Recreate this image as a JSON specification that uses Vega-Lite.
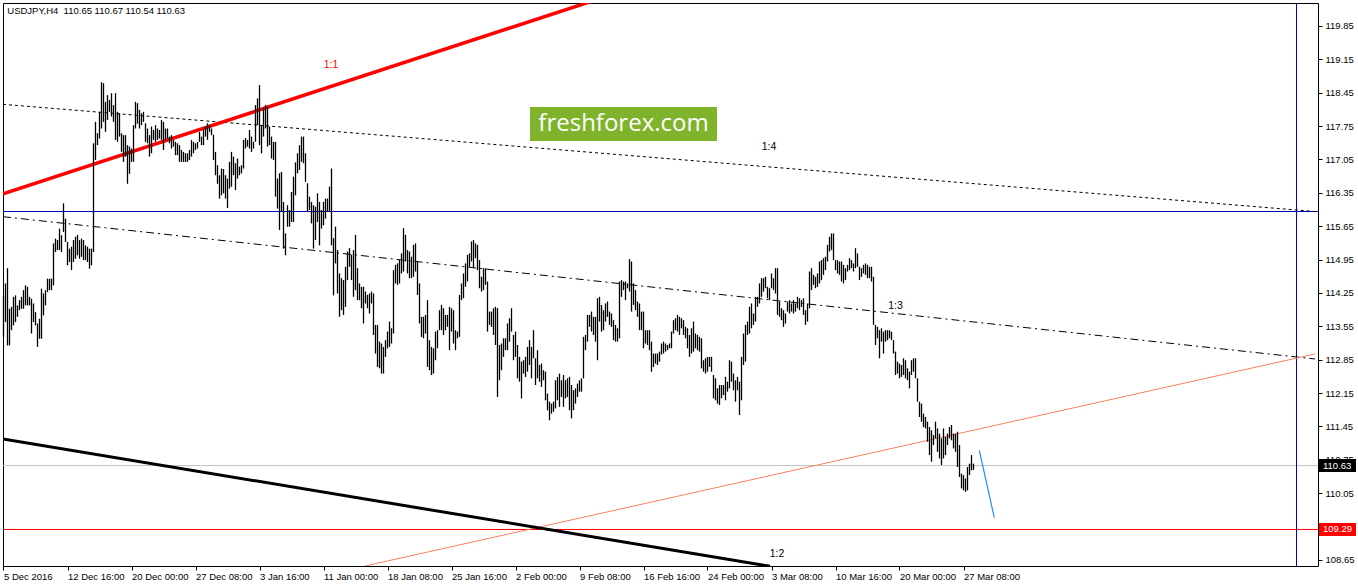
{
"$schema":"https://vega.github.io/schema/vega-lite/v6.json",
"width":1315,"height":563,
"autosize":{"type":"none"},
"padding":{"left":3,"top":3,"right":40,"bottom":18},
"background":"#ffffff",
"config":{"view":{"stroke":"#000000","strokeWidth":1},"axis":{"grid":false,"domain":false,"labelFont":"Liberation Sans","labelFontSize":9.5,"labelColor":"#000000","tickColor":"#000000","tickSize":4,"labelOverlap":false,"labelSeparation":0,"labelFlush":false,"labelBound":false,"tickCount":100}},
"datasets":{
"one":[{}],
"bars":[
{"i":0,"h":114.19,"l":113.33},{"i":1,"h":114.45,"l":113.64},{"i":2,"h":114.77,"l":113.15},{"i":3,"h":113.92,"l":113.15},{"i":4,"h":113.96,"l":113.47},{"i":5,"h":114.17,"l":113.57},{"i":6,"h":114.20,"l":113.64},{"i":7,"h":113.99,"l":113.75},{"i":8,"h":114.10,"l":113.89},{"i":9,"h":114.17,"l":113.92},
{"i":10,"h":114.31,"l":113.92},{"i":11,"h":114.41,"l":113.99},{"i":12,"h":114.38,"l":113.99},{"i":13,"h":114.17,"l":113.99},{"i":14,"h":114.13,"l":113.40},{"i":15,"h":114.03,"l":113.64},{"i":16,"h":113.85,"l":113.57},{"i":17,"h":113.61,"l":113.12},{"i":18,"h":113.71,"l":113.29},{"i":19,"h":114.34,"l":113.29},
{"i":20,"h":114.24,"l":113.78},{"i":21,"h":114.31,"l":113.99},{"i":22,"h":114.55,"l":114.27},{"i":23,"h":114.55,"l":114.31},{"i":24,"h":114.55,"l":114.31},{"i":25,"h":115.29,"l":114.41},{"i":26,"h":115.39,"l":115.11},{"i":27,"h":115.36,"l":115.15},{"i":28,"h":115.60,"l":115.15},{"i":29,"h":115.46,"l":115.11},
{"i":30,"h":116.13,"l":115.53},{"i":31,"h":115.81,"l":115.32},{"i":32,"h":115.32,"l":114.83},{"i":33,"h":115.18,"l":114.90},{"i":34,"h":115.22,"l":114.73},{"i":35,"h":115.36,"l":114.90},{"i":36,"h":115.43,"l":114.97},{"i":37,"h":115.47,"l":115.04},{"i":38,"h":115.36,"l":114.97},{"i":39,"h":115.39,"l":115.01},
{"i":40,"h":115.36,"l":114.94},{"i":41,"h":115.25,"l":114.94},{"i":42,"h":115.22,"l":114.90},{"i":43,"h":115.18,"l":114.76},{"i":44,"h":115.18,"l":114.83},{"i":45,"h":117.39,"l":115.11},{"i":46,"h":117.84,"l":117.04},{"i":47,"h":117.60,"l":117.35},{"i":48,"h":118.05,"l":117.49},{"i":49,"h":118.67,"l":117.70},
{"i":50,"h":118.65,"l":117.84},{"i":51,"h":118.26,"l":117.63},{"i":52,"h":118.40,"l":117.88},{"i":53,"h":118.30,"l":118.05},{"i":54,"h":118.44,"l":117.95},{"i":55,"h":118.19,"l":117.84},{"i":56,"h":118.44,"l":117.46},{"i":57,"h":118.05,"l":117.42},{"i":58,"h":118.02,"l":117.53},{"i":59,"h":117.60,"l":117.21},
{"i":60,"h":117.56,"l":117.00},{"i":61,"h":117.56,"l":117.11},{"i":62,"h":117.35,"l":116.54},{"i":63,"h":117.32,"l":116.75},{"i":64,"h":117.28,"l":117.00},{"i":65,"h":117.77,"l":117.00},{"i":66,"h":118.26,"l":117.70},{"i":67,"h":118.23,"l":117.80},{"i":68,"h":118.09,"l":117.70},{"i":69,"h":118.02,"l":117.77},
{"i":70,"h":118.05,"l":117.84},{"i":71,"h":117.81,"l":117.42},{"i":72,"h":117.70,"l":117.39},{"i":73,"h":117.56,"l":117.11},{"i":74,"h":117.74,"l":117.18},{"i":75,"h":117.67,"l":117.46},{"i":76,"h":117.77,"l":117.42},{"i":77,"h":117.70,"l":117.46},{"i":78,"h":117.67,"l":117.49},{"i":79,"h":117.88,"l":117.46},
{"i":80,"h":117.84,"l":117.25},{"i":81,"h":117.70,"l":117.46},{"i":82,"h":117.70,"l":117.49},{"i":83,"h":117.53,"l":117.39},{"i":84,"h":117.56,"l":117.28},{"i":85,"h":117.46,"l":117.32},{"i":86,"h":117.42,"l":117.14},{"i":87,"h":117.39,"l":117.14},{"i":88,"h":117.35,"l":117.00},{"i":89,"h":117.25,"l":117.00},
{"i":90,"h":117.21,"l":117.00},{"i":91,"h":117.18,"l":117.00},{"i":92,"h":117.18,"l":117.00},{"i":93,"h":117.25,"l":117.04},{"i":94,"h":117.46,"l":117.11},{"i":95,"h":117.42,"l":117.18},{"i":96,"h":117.39,"l":117.25},{"i":97,"h":117.42,"l":117.28},{"i":98,"h":117.63,"l":117.42},{"i":99,"h":117.53,"l":117.35},
{"i":100,"h":117.67,"l":117.35},{"i":101,"h":117.74,"l":117.53},{"i":102,"h":117.81,"l":117.46},{"i":103,"h":117.77,"l":117.63},{"i":104,"h":117.70,"l":117.56},{"i":105,"h":117.57,"l":117.04},{"i":106,"h":117.21,"l":116.72},{"i":107,"h":116.93,"l":116.54},{"i":108,"h":116.72,"l":116.23},{"i":109,"h":116.86,"l":116.30},
{"i":110,"h":116.85,"l":116.34},{"i":111,"h":116.72,"l":116.23},{"i":112,"h":116.65,"l":116.03},{"i":113,"h":117.00,"l":116.44},{"i":114,"h":117.21,"l":116.48},{"i":115,"h":117.11,"l":116.72},{"i":116,"h":116.97,"l":116.41},{"i":117,"h":117.07,"l":116.65},{"i":118,"h":116.90,"l":116.72},{"i":119,"h":116.93,"l":116.76},
{"i":120,"h":117.46,"l":116.86},{"i":121,"h":117.50,"l":117.28},{"i":122,"h":117.46,"l":117.32},{"i":123,"h":117.67,"l":117.28},{"i":124,"h":117.53,"l":117.21},{"i":125,"h":117.42,"l":117.28},{"i":126,"h":118.19,"l":117.42},{"i":127,"h":118.33,"l":117.77},{"i":128,"h":118.61,"l":117.35},{"i":129,"h":117.77,"l":117.18},
{"i":130,"h":118.12,"l":117.53},{"i":131,"h":118.19,"l":117.70},{"i":132,"h":118.16,"l":117.32},{"i":133,"h":117.74,"l":117.35},{"i":134,"h":117.53,"l":117.07},{"i":135,"h":117.42,"l":117.04},{"i":136,"h":117.42,"l":116.27},{"i":137,"h":116.65,"l":116.02},{"i":138,"h":116.76,"l":115.57},{"i":139,"h":116.79,"l":115.95},
{"i":140,"h":116.16,"l":115.18},{"i":141,"h":115.50,"l":115.04},{"i":142,"h":116.09,"l":115.64},{"i":143,"h":115.99,"l":115.64},{"i":144,"h":116.37,"l":115.74},{"i":145,"h":116.69,"l":115.74},{"i":146,"h":116.99,"l":116.30},{"i":147,"h":117.18,"l":116.76},{"i":148,"h":117.35,"l":116.83},{"i":149,"h":117.53,"l":117.00},
{"i":150,"h":117.53,"l":116.97},{"i":151,"h":117.18,"l":116.58},{"i":152,"h":116.55,"l":115.95},{"i":153,"h":116.27,"l":115.99},{"i":154,"h":116.16,"l":115.71},{"i":155,"h":116.09,"l":115.18},{"i":156,"h":116.06,"l":115.36},{"i":157,"h":116.34,"l":115.74},{"i":158,"h":116.16,"l":115.25},{"i":159,"h":115.99,"l":115.60},
{"i":160,"h":116.16,"l":115.67},{"i":161,"h":116.23,"l":115.81},{"i":162,"h":116.23,"l":115.95},{"i":163,"h":116.48,"l":115.95},{"i":164,"h":116.86,"l":115.25},{"i":165,"h":115.40,"l":114.20},{"i":166,"h":115.64,"l":114.87},{"i":167,"h":115.15,"l":114.24},{"i":168,"h":114.66,"l":113.75},{"i":169,"h":114.56,"l":113.89},
{"i":170,"h":114.52,"l":113.79},{"i":171,"h":114.80,"l":113.96},{"i":172,"h":115.12,"l":114.52},{"i":173,"h":115.19,"l":114.80},{"i":174,"h":115.05,"l":114.52},{"i":175,"h":115.15,"l":114.17},{"i":176,"h":115.47,"l":114.31},{"i":177,"h":114.77,"l":114.10},{"i":178,"h":114.45,"l":114.10},{"i":179,"h":114.38,"l":113.93},
{"i":180,"h":114.38,"l":113.61},{"i":181,"h":114.28,"l":114.03},{"i":182,"h":114.21,"l":113.93},{"i":183,"h":114.24,"l":113.82},{"i":184,"h":114.28,"l":114.03},{"i":185,"h":114.24,"l":113.37},{"i":186,"h":113.58,"l":112.98},{"i":187,"h":113.58,"l":112.70},{"i":188,"h":113.23,"l":112.67},{"i":189,"h":113.19,"l":112.56},
{"i":190,"h":113.12,"l":112.56},{"i":191,"h":113.26,"l":112.91},{"i":192,"h":113.44,"l":113.09},{"i":193,"h":113.65,"l":113.12},{"i":194,"h":113.51,"l":113.19},{"i":195,"h":114.73,"l":113.40},{"i":196,"h":114.84,"l":114.45},{"i":197,"h":114.87,"l":114.42},{"i":198,"h":114.94,"l":114.45},{"i":199,"h":115.08,"l":114.66},
{"i":200,"h":115.61,"l":114.70},{"i":201,"h":115.47,"l":114.91},{"i":202,"h":115.15,"l":114.66},{"i":203,"h":115.12,"l":114.56},{"i":204,"h":115.01,"l":114.56},{"i":205,"h":115.26,"l":114.59},{"i":206,"h":115.29,"l":114.70},{"i":207,"h":114.91,"l":114.21},{"i":208,"h":114.45,"l":113.61},{"i":209,"h":113.75,"l":113.33},
{"i":210,"h":113.75,"l":113.30},{"i":211,"h":113.79,"l":113.40},{"i":212,"h":114.10,"l":112.70},{"i":213,"h":113.26,"l":112.63},{"i":214,"h":113.12,"l":112.53},{"i":215,"h":113.09,"l":112.56},{"i":216,"h":113.44,"l":112.84},{"i":217,"h":113.47,"l":113.09},{"i":218,"h":113.89,"l":113.47},{"i":219,"h":114.00,"l":113.47},
{"i":220,"h":113.93,"l":113.37},{"i":221,"h":113.79,"l":113.47},{"i":222,"h":113.79,"l":113.54},{"i":223,"h":113.96,"l":113.05},{"i":224,"h":113.93,"l":113.44},{"i":225,"h":113.89,"l":113.19},{"i":226,"h":113.47,"l":113.05},{"i":227,"h":113.44,"l":113.30},{"i":228,"h":114.21,"l":113.33},{"i":229,"h":114.45,"l":114.10},
{"i":230,"h":114.66,"l":114.14},{"i":231,"h":114.87,"l":114.38},{"i":232,"h":115.05,"l":114.49},{"i":233,"h":115.08,"l":114.80},{"i":234,"h":115.33,"l":114.91},{"i":235,"h":115.36,"l":114.77},{"i":236,"h":115.29,"l":114.98},{"i":237,"h":115.26,"l":114.73},{"i":238,"h":114.94,"l":114.35},{"i":239,"h":114.59,"l":114.28},
{"i":240,"h":114.77,"l":114.31},{"i":241,"h":114.77,"l":114.42},{"i":242,"h":114.49,"l":113.44},{"i":243,"h":113.86,"l":113.58},{"i":244,"h":113.86,"l":113.54},{"i":245,"h":113.93,"l":113.37},{"i":246,"h":113.96,"l":113.16},{"i":247,"h":113.93,"l":112.07},{"i":248,"h":113.16,"l":112.42},{"i":249,"h":113.19,"l":112.63},
{"i":250,"h":113.30,"l":112.91},{"i":251,"h":113.30,"l":113.05},{"i":252,"h":113.61,"l":113.05},{"i":253,"h":113.72,"l":113.23},{"i":254,"h":113.93,"l":113.44},{"i":255,"h":113.37,"l":112.84},{"i":256,"h":113.44,"l":112.91},{"i":257,"h":113.16,"l":112.46},{"i":258,"h":112.91,"l":112.39},{"i":259,"h":112.81,"l":112.04},
{"i":260,"h":112.84,"l":112.56},{"i":261,"h":112.91,"l":112.49},{"i":262,"h":113.12,"l":112.60},{"i":263,"h":113.26,"l":112.74},{"i":264,"h":113.12,"l":112.46},{"i":265,"h":113.47,"l":112.88},{"i":266,"h":112.88,"l":112.32},{"i":267,"h":113.05,"l":112.46},{"i":268,"h":112.74,"l":112.39},{"i":269,"h":112.77,"l":112.28},
{"i":270,"h":112.63,"l":112.42},{"i":271,"h":112.60,"l":112.00},{"i":272,"h":112.14,"l":111.79},{"i":273,"h":111.97,"l":111.58},{"i":274,"h":111.93,"l":111.72},{"i":275,"h":111.97,"l":111.76},{"i":276,"h":112.42,"l":111.83},{"i":277,"h":112.49,"l":112.00},{"i":278,"h":112.56,"l":111.86},{"i":279,"h":112.42,"l":112.07},
{"i":280,"h":112.53,"l":111.86},{"i":281,"h":112.42,"l":112.04},{"i":282,"h":112.46,"l":112.07},{"i":283,"h":112.49,"l":111.79},{"i":284,"h":112.32,"l":111.62},{"i":285,"h":112.21,"l":111.79},{"i":286,"h":112.25,"l":111.93},{"i":287,"h":112.35,"l":112.07},{"i":288,"h":112.42,"l":112.18},{"i":289,"h":112.46,"l":112.18},
{"i":290,"h":113.33,"l":112.46},{"i":291,"h":113.37,"l":113.05},{"i":292,"h":113.79,"l":113.23},{"i":293,"h":113.79,"l":113.54},{"i":294,"h":113.86,"l":113.44},{"i":295,"h":113.75,"l":113.37},{"i":296,"h":113.75,"l":113.23},{"i":297,"h":114.14,"l":112.84},{"i":298,"h":114.17,"l":113.65},{"i":299,"h":114.00,"l":113.44},
{"i":300,"h":113.89,"l":113.47},{"i":301,"h":114.03,"l":113.65},{"i":302,"h":114.07,"l":113.75},{"i":303,"h":113.86,"l":113.58},{"i":304,"h":113.82,"l":113.54},{"i":305,"h":113.68,"l":113.26},{"i":306,"h":113.58,"l":113.23},{"i":307,"h":113.51,"l":113.23},{"i":308,"h":114.49,"l":113.30},{"i":309,"h":114.52,"l":114.17},
{"i":310,"h":114.49,"l":114.31},{"i":311,"h":114.49,"l":114.10},{"i":312,"h":114.45,"l":114.35},{"i":313,"h":114.96,"l":114.28},{"i":314,"h":114.91,"l":113.86},{"i":315,"h":114.45,"l":114.00},{"i":316,"h":114.31,"l":113.89},{"i":317,"h":114.07,"l":113.75},{"i":318,"h":114.03,"l":113.47},{"i":319,"h":113.86,"l":113.47},
{"i":320,"h":113.86,"l":113.09},{"i":321,"h":113.47,"l":113.19},{"i":322,"h":113.47,"l":113.16},{"i":323,"h":113.47,"l":113.05},{"i":324,"h":113.23,"l":112.60},{"i":325,"h":112.98,"l":112.70},{"i":326,"h":112.98,"l":112.77},{"i":327,"h":112.98,"l":112.74},{"i":328,"h":113.02,"l":112.81},{"i":329,"h":113.19,"l":112.96},
{"i":330,"h":113.23,"l":112.98},{"i":331,"h":113.19,"l":113.02},{"i":332,"h":113.16,"l":113.05},{"i":333,"h":113.19,"l":113.09},{"i":334,"h":113.44,"l":113.09},{"i":335,"h":113.68,"l":113.40},{"i":336,"h":113.72,"l":113.47},{"i":337,"h":113.79,"l":113.44},{"i":338,"h":113.75,"l":113.37},{"i":339,"h":113.72,"l":113.51},
{"i":340,"h":113.68,"l":113.37},{"i":341,"h":113.54,"l":113.30},{"i":342,"h":113.51,"l":113.09},{"i":343,"h":113.37,"l":112.91},{"i":344,"h":113.51,"l":112.98},{"i":345,"h":113.65,"l":113.02},{"i":346,"h":113.40,"l":113.09},{"i":347,"h":113.37,"l":113.05},{"i":348,"h":113.33,"l":113.02},{"i":349,"h":113.30,"l":112.67},
{"i":350,"h":112.84,"l":112.60},{"i":351,"h":112.88,"l":112.56},{"i":352,"h":112.91,"l":112.60},{"i":353,"h":112.91,"l":112.70},{"i":354,"h":112.91,"l":112.60},{"i":355,"h":112.53,"l":112.04},{"i":356,"h":112.46,"l":112.00},{"i":357,"h":112.25,"l":111.93},{"i":358,"h":112.32,"l":111.90},{"i":359,"h":112.32,"l":112.04},
{"i":360,"h":112.32,"l":112.11},{"i":361,"h":112.49,"l":112.00},{"i":362,"h":112.39,"l":112.18},{"i":363,"h":112.84,"l":112.25},{"i":364,"h":112.81,"l":112.39},{"i":365,"h":112.56,"l":112.21},{"i":366,"h":112.42,"l":111.97},{"i":367,"h":112.49,"l":112.21},{"i":368,"h":112.39,"l":111.69},{"i":369,"h":112.91,"l":112.00},
{"i":370,"h":113.40,"l":112.74},{"i":371,"h":113.58,"l":112.81},{"i":372,"h":113.65,"l":113.37},{"i":373,"h":113.96,"l":113.40},{"i":374,"h":114.03,"l":113.51},{"i":375,"h":113.82,"l":113.58},{"i":376,"h":114.17,"l":113.65},{"i":377,"h":114.17,"l":113.96},{"i":378,"h":114.45,"l":114.03},{"i":379,"h":114.56,"l":114.17},
{"i":380,"h":114.56,"l":114.28},{"i":381,"h":114.59,"l":114.35},{"i":382,"h":114.38,"l":114.14},{"i":383,"h":114.35,"l":114.10},{"i":384,"h":114.66,"l":114.35},{"i":385,"h":114.56,"l":114.31},{"i":386,"h":114.77,"l":114.24},{"i":387,"h":114.77,"l":113.79},{"i":388,"h":114.07,"l":113.75},{"i":389,"h":113.93,"l":113.68},
{"i":390,"h":113.89,"l":113.54},{"i":391,"h":113.82,"l":113.61},{"i":392,"h":114.07,"l":113.86},{"i":393,"h":114.10,"l":113.82},{"i":394,"h":114.03,"l":113.86},{"i":395,"h":114.10,"l":113.82},{"i":396,"h":114.03,"l":113.86},{"i":397,"h":114.17,"l":113.93},{"i":398,"h":114.14,"l":113.89},{"i":399,"h":114.10,"l":113.96},
{"i":400,"h":114.14,"l":113.79},{"i":401,"h":113.89,"l":113.58},{"i":402,"h":114.03,"l":113.65},{"i":403,"h":114.70,"l":113.93},{"i":404,"h":114.77,"l":114.31},{"i":405,"h":114.63,"l":114.42},{"i":406,"h":114.59,"l":114.35},{"i":407,"h":114.66,"l":114.38},{"i":408,"h":114.91,"l":114.45},{"i":409,"h":114.94,"l":114.52},
{"i":410,"h":114.98,"l":114.63},{"i":411,"h":115.01,"l":114.73},{"i":412,"h":115.26,"l":114.91},{"i":413,"h":115.43,"l":115.12},{"i":414,"h":115.50,"l":115.15},{"i":415,"h":115.50,"l":114.94},{"i":416,"h":114.94,"l":114.73},{"i":417,"h":114.94,"l":114.66},{"i":418,"h":114.91,"l":114.63},{"i":419,"h":114.91,"l":114.49},
{"i":420,"h":114.84,"l":114.45},{"i":421,"h":114.77,"l":114.52},{"i":422,"h":114.84,"l":114.70},{"i":423,"h":114.98,"l":114.73},{"i":424,"h":114.94,"l":114.77},{"i":425,"h":114.87,"l":114.70},{"i":426,"h":115.19,"l":114.77},{"i":427,"h":115.08,"l":114.80},{"i":428,"h":114.80,"l":114.52},{"i":429,"h":114.77,"l":114.59},
{"i":430,"h":114.84,"l":114.66},{"i":431,"h":114.87,"l":114.63},{"i":432,"h":114.84,"l":114.56},{"i":433,"h":114.80,"l":114.56},{"i":434,"h":114.80,"l":114.49},{"i":435,"h":114.59,"l":113.58},{"i":436,"h":113.58,"l":113.16},{"i":437,"h":113.54,"l":113.30},{"i":438,"h":113.47,"l":112.88},{"i":439,"h":113.51,"l":113.23},
{"i":440,"h":113.44,"l":112.98},{"i":441,"h":113.47,"l":113.23},{"i":442,"h":113.47,"l":113.26},{"i":443,"h":113.47,"l":113.30},{"i":444,"h":113.44,"l":113.26},{"i":445,"h":113.26,"l":112.98},{"i":446,"h":113.02,"l":112.53},{"i":447,"h":112.81,"l":112.56},{"i":448,"h":112.77,"l":112.46},{"i":449,"h":112.74,"l":112.49},
{"i":450,"h":112.88,"l":112.53},{"i":451,"h":112.84,"l":112.46},{"i":452,"h":112.67,"l":112.42},{"i":453,"h":112.60,"l":112.25},{"i":454,"h":112.84,"l":112.53},{"i":455,"h":112.88,"l":112.60},{"i":456,"h":112.88,"l":112.46},{"i":457,"h":112.46,"l":111.97},{"i":458,"h":111.97,"l":111.65},{"i":459,"h":111.93,"l":111.55},
{"i":460,"h":111.72,"l":111.44},{"i":461,"h":111.65,"l":111.41},{"i":462,"h":111.55,"l":111.13},{"i":463,"h":111.44,"l":110.85},{"i":464,"h":111.37,"l":110.71},{"i":465,"h":111.27,"l":111.06},{"i":466,"h":111.55,"l":111.20},{"i":467,"h":111.41,"l":110.92},{"i":468,"h":111.30,"l":110.78},{"i":469,"h":111.20,"l":110.64},
{"i":470,"h":111.41,"l":110.78},{"i":471,"h":111.23,"l":110.85},{"i":472,"h":111.30,"l":111.06},{"i":473,"h":111.44,"l":111.20},{"i":474,"h":111.48,"l":111.16},{"i":475,"h":111.30,"l":110.99},{"i":476,"h":111.30,"l":110.92},{"i":477,"h":111.34,"l":110.60},{"i":478,"h":111.06,"l":110.39},{"i":479,"h":110.46,"l":110.15},
{"i":480,"h":110.43,"l":110.11},{"i":481,"h":110.36,"l":110.08},{"i":482,"h":110.60,"l":110.11},{"i":483,"h":110.67,"l":110.43},{"i":484,"h":110.85,"l":110.53},{"i":485,"h":110.67,"l":110.54}
],
"line11":[{"i":-0.25,"p":116.33},{"i":300,"p":120.45}],
"line14":[{"i":-0.25,"p":118.207},{"i":655.75,"p":115.959}],
"line13":[{"i":-0.25,"p":115.85},{"i":655.75,"p":112.866}],
"line12":[{"i":-0.25,"p":111.19},{"i":383.25,"p":108.518}],
"lineSalmon":[{"i":180.75,"p":108.524},{"i":655.75,"p":112.971}],
"lineBlue":[{"i":487.9,"p":110.951},{"i":495.4,"p":109.537}]
},
"layer":[
{"data":{"name":"one"},"mark":{"type":"rect","color":"#7fb32c"},
 "encoding":{"x":{"datum":263.25,"type":"quantitative","title":null,"scale":{"domain":[-0.25,657.25]}},"x2":{"datum":356.75},
 "y":{"datum":118.15,"type":"quantitative","title":null,"scale":{"domain":[108.524,120.332],"zero":false,"nice":false}},"y2":{"datum":117.44}}},
{"data":{"name":"one"},"mark":{"type":"text","text":"freshforex.com","color":"#ffffff","font":"Open Sans","fontSize":24,"align":"center","baseline":"middle"},
 "encoding":{"x":{"datum":310,"type":"quantitative","title":null,"scale":{"domain":[-0.25,657.25]}},"y":{"datum":117.80,"type":"quantitative","title":null,"scale":{"domain":[108.524,120.332],"zero":false,"nice":false}}}},
{"data":{"name":"one"},"mark":{"type":"rule","color":"#c0c0c0","strokeWidth":1},
 "encoding":{"y":{"datum":110.63,"type":"quantitative","title":null,"scale":{"domain":[108.524,120.332],"zero":false,"nice":false}}}},
{"data":{"name":"one"},"mark":{"type":"rule","color":"#ff0000","strokeWidth":1},
 "encoding":{"y":{"datum":109.29,"type":"quantitative","title":null,"scale":{"domain":[108.524,120.332],"zero":false,"nice":false}}}},
{"data":{"name":"one"},"mark":{"type":"rule","color":"#0000c8","strokeWidth":1},
 "encoding":{"y":{"datum":115.959,"type":"quantitative","title":null,"scale":{"domain":[108.524,120.332],"zero":false,"nice":false}}}},
{"data":{"name":"one"},"mark":{"type":"rule","color":"#0000c8","strokeWidth":1},
 "encoding":{"x":{"datum":646.5,"type":"quantitative","title":null,"scale":{"domain":[-0.25,657.25]}}}},
{"data":{"name":"line14"},"mark":{"type":"line","color":"#000000","strokeWidth":1,"strokeDash":[3,3],"clip":true},
 "encoding":{"x":{"field":"i","type":"quantitative","title":null,"scale":{"domain":[-0.25,657.25]}},"y":{"field":"p","type":"quantitative","title":null,"scale":{"domain":[108.524,120.332],"zero":false,"nice":false}}}},
{"data":{"name":"line13"},"mark":{"type":"line","color":"#000000","strokeWidth":1,"strokeDash":[8,4,2,4],"clip":true},
 "encoding":{"x":{"field":"i","type":"quantitative","title":null,"scale":{"domain":[-0.25,657.25]}},"y":{"field":"p","type":"quantitative","title":null,"scale":{"domain":[108.524,120.332],"zero":false,"nice":false}}}},
{"data":{"name":"lineSalmon"},"mark":{"type":"line","color":"#fa8060","strokeWidth":1,"clip":true},
 "encoding":{"x":{"field":"i","type":"quantitative","title":null,"scale":{"domain":[-0.25,657.25]}},"y":{"field":"p","type":"quantitative","title":null,"scale":{"domain":[108.524,120.332],"zero":false,"nice":false}}}},
{"data":{"name":"line12"},"mark":{"type":"line","color":"#000000","strokeWidth":3,"clip":true},
 "encoding":{"x":{"field":"i","type":"quantitative","title":null,"scale":{"domain":[-0.25,657.25]}},"y":{"field":"p","type":"quantitative","title":null,"scale":{"domain":[108.524,120.332],"zero":false,"nice":false}}}},
{"data":{"name":"line11"},"mark":{"type":"line","color":"#ff0000","strokeWidth":3.5,"clip":true},
 "encoding":{"x":{"field":"i","type":"quantitative","title":null,"scale":{"domain":[-0.25,657.25]}},"y":{"field":"p","type":"quantitative","title":null,"scale":{"domain":[108.524,120.332],"zero":false,"nice":false}}}},
{"data":{"name":"lineBlue"},"mark":{"type":"line","color":"#1e90ff","strokeWidth":1.2,"clip":true},
 "encoding":{"x":{"field":"i","type":"quantitative","title":null,"scale":{"domain":[-0.25,657.25]}},"y":{"field":"p","type":"quantitative","title":null,"scale":{"domain":[108.524,120.332],"zero":false,"nice":false}}}},
{"data":{"name":"bars"},"mark":{"type":"rule","color":"#000000","strokeWidth":1.3},
 "encoding":{
  "x":{"field":"i","type":"quantitative","title":null,"scale":{"domain":[-0.25,657.25]},
   "axis":{"orient":"bottom","values":[0,32,64,96,128,160,192,224,256,288,320,352,384,416,448,480],"tickCount":100,
    "labelExpr":"['5 Dec 2016','12 Dec 16:00','20 Dec 00:00','27 Dec 08:00','3 Jan 16:00','11 Jan 00:00','18 Jan 08:00','25 Jan 16:00','2 Feb 00:00','9 Feb 08:00','16 Feb 16:00','24 Feb 00:00','3 Mar 08:00','10 Mar 16:00','20 Mar 00:00','27 Mar 08:00'][round(datum.value/32)]",
    "labelAlign":"left","labelBaseline":"top","labelPadding":1,"labelFlush":false,"labelOverlap":false,"labelBound":false,"tickSize":4}},
  "y":{"field":"l","type":"quantitative","title":null,"scale":{"domain":[108.524,120.332],"zero":false,"nice":false},
   "axis":{"orient":"right","values":[108.65,109.35,110.05,110.75,111.45,112.15,112.85,113.55,114.25,114.95,115.65,116.35,117.05,117.75,118.45,119.15,119.85],"tickCount":100,
    "format":".2f","labelPadding":3,"labelBaseline":"middle","labelFlush":false,"labelOverlap":false,"labelSeparation":0,"labelBound":false,"tickSize":4}},
  "y2":{"field":"h"}}},
{"data":{"name":"one"},"mark":{"type":"text","text":"USDJPY,H4\u00a0 110.65 110.67 110.54 110.63","color":"#000000","font":"Liberation Sans","fontSize":9.5,"align":"left","baseline":"middle"},
 "encoding":{"x":{"datum":1.9,"type":"quantitative","title":null,"scale":{"domain":[-0.25,657.25]}},"y":{"datum":120.17,"type":"quantitative","title":null,"scale":{"domain":[108.524,120.332],"zero":false,"nice":false}}}},
{"data":{"name":"one"},"mark":{"type":"text","text":"1:1","color":"#ff0000","font":"Liberation Sans","fontSize":10.5,"align":"center","baseline":"middle"},
 "encoding":{"x":{"datum":163.75,"type":"quantitative","title":null,"scale":{"domain":[-0.25,657.25]}},"y":{"datum":119.03,"type":"quantitative","title":null,"scale":{"domain":[108.524,120.332],"zero":false,"nice":false}}}},
{"data":{"name":"one"},"mark":{"type":"text","text":"1:4","color":"#000000","font":"Liberation Sans","fontSize":10.5,"align":"center","baseline":"middle"},
 "encoding":{"x":{"datum":382.75,"type":"quantitative","title":null,"scale":{"domain":[-0.25,657.25]}},"y":{"datum":117.31,"type":"quantitative","title":null,"scale":{"domain":[108.524,120.332],"zero":false,"nice":false}}}},
{"data":{"name":"one"},"mark":{"type":"text","text":"1:3","color":"#000000","font":"Liberation Sans","fontSize":10.5,"align":"center","baseline":"middle"},
 "encoding":{"x":{"datum":446.0,"type":"quantitative","title":null,"scale":{"domain":[-0.25,657.25]}},"y":{"datum":113.97,"type":"quantitative","title":null,"scale":{"domain":[108.524,120.332],"zero":false,"nice":false}}}},
{"data":{"name":"one"},"mark":{"type":"text","text":"1:2","color":"#000000","font":"Liberation Sans","fontSize":10.5,"align":"center","baseline":"middle"},
 "encoding":{"x":{"datum":386.75,"type":"quantitative","title":null,"scale":{"domain":[-0.25,657.25]}},"y":{"datum":108.78,"type":"quantitative","title":null,"scale":{"domain":[108.524,120.332],"zero":false,"nice":false}}}},
{"data":{"name":"one"},"mark":{"type":"tick","orient":"horizontal","color":"#000000","thickness":13,"size":37,"opacity":1,"clip":false},
 "encoding":{"x":{"datum":667,"type":"quantitative","title":null,"scale":{"domain":[-0.25,657.25]}},"y":{"datum":110.63,"type":"quantitative","title":null,"scale":{"domain":[108.524,120.332],"zero":false,"nice":false}}}},
{"data":{"name":"one"},"mark":{"type":"tick","orient":"horizontal","color":"#ff0000","thickness":13,"size":37,"opacity":1,"clip":false},
 "encoding":{"x":{"datum":667,"type":"quantitative","title":null,"scale":{"domain":[-0.25,657.25]}},"y":{"datum":109.29,"type":"quantitative","title":null,"scale":{"domain":[108.524,120.332],"zero":false,"nice":false}}}},
{"data":{"name":"one"},"mark":{"type":"text","text":"110.63","color":"#ffffff","font":"Liberation Sans","fontSize":9.5,"align":"left","baseline":"middle"},
 "encoding":{"x":{"datum":659.75,"type":"quantitative","title":null,"scale":{"domain":[-0.25,657.25]}},"y":{"datum":110.63,"type":"quantitative","title":null,"scale":{"domain":[108.524,120.332],"zero":false,"nice":false}}}},
{"data":{"name":"one"},"mark":{"type":"text","text":"109.29","color":"#ffffff","font":"Liberation Sans","fontSize":9.5,"align":"left","baseline":"middle"},
 "encoding":{"x":{"datum":659.75,"type":"quantitative","title":null,"scale":{"domain":[-0.25,657.25]}},"y":{"datum":109.29,"type":"quantitative","title":null,"scale":{"domain":[108.524,120.332],"zero":false,"nice":false}}}}
]
}
